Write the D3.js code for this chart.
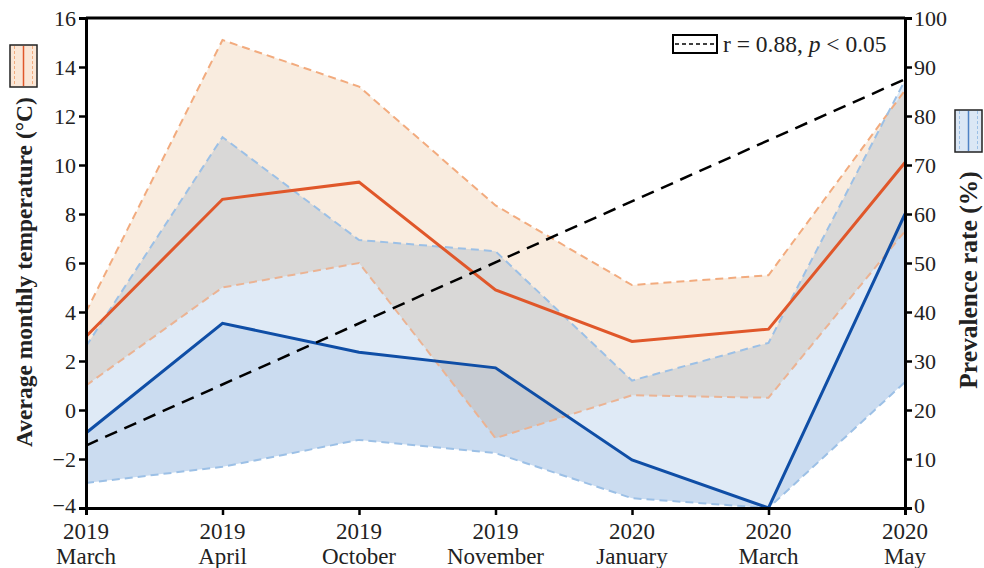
<!DOCTYPE html>
<html>
<head>
<meta charset="utf-8">
<script src="https://cdn.jsdelivr.net/npm/d3@7"></script>
<style>
  body { margin: 0; background: #fff; }
  svg { font-family: "Liberation Serif", "Times New Roman", serif; }
</style>
</head>
<body>
<div id="chart"></div>
<script>
// 数据
const years = ["2019", "2019", "2019", "2019", "2020", "2020", "2020"];
const months = ["March", "April", "October", "November", "January", "March", "May"];
// 温度 (°C)
const tempUpper = [4.0, 15.1, 13.2, 8.35, 5.1, 5.5, 13.05];
const tempMean = [3.0, 8.6, 9.3, 4.9, 2.8, 3.3, 10.1];
const tempLower = [1.0, 5.0, 6.0, -1.15, 0.6, 0.5, 7.3];
// 患病率 (%)
const prevUpper = [33, 75.7, 54.7, 52.4, 26, 33.7, 87.3];
const prevMean = [15.3, 37.7, 31.8, 28.6, 9.8, 0, 60];
const prevLower = [5.1, 8.4, 13.9, 11.2, 2, 0, 25.7];
// 回归线两端 (°C)
const trendEnds = [-1.45, 13.5];
const tempTicks = [-4, -2, 0, 2, 4, 6, 8, 10, 12, 14, 16];
const prevTicks = [0, 10, 20, 30, 40, 50, 60, 70, 80, 90, 100];

const width = 984, height = 568;
const margin = { top: 18, right: 79, bottom: 60, left: 86 };

const svg = d3.select("#chart").append("svg")
  .attr("width", width)
  .attr("height", height);

const x = d3.scalePoint()
  .domain(d3.range(months.length))
  .range([margin.left, width - margin.right]);
const yT = d3.scaleLinear().domain([-4, 16]).range([height - margin.bottom, margin.top]);
const yP = d3.scaleLinear().domain([0, 100]).range([height - margin.bottom, margin.top]);

const idx = d3.range(months.length);
const bandT = d3.area().x(i => x(i)).y0(i => yT(tempLower[i])).y1(i => yT(tempUpper[i]));
const bandP = d3.area().x(i => x(i)).y0(i => yP(prevLower[i])).y1(i => yP(prevUpper[i]));
const bandPin = d3.area().x(i => x(i)).y0(i => yP(prevLower[i])).y1(i => yP(prevMean[i]));
const lineOf = (arr, sc) => d3.line().x(i => x(i)).y(i => sc(arr[i]));

const fills = svg.append("g").style("isolation", "isolate");
fills.append("path").attr("d", bandT(idx)).attr("fill", "#f9ecdf");
fills.append("path").attr("d", bandP(idx)).attr("fill", "#dfeaf6").style("mix-blend-mode", "multiply");
fills.append("path").attr("d", bandPin(idx)).attr("fill", "#e9f0f9").style("mix-blend-mode", "multiply");

// 虚线边界
const dash = "8,5";
[[tempUpper, yT, "#f2ab7e"], [tempLower, yT, "#ebb393"], [prevUpper, yP, "#9cc0e6"], [prevLower, yP, "#9cc0e6"]]
  .forEach(([arr, sc, c]) => {
    svg.append("path").attr("d", lineOf(arr, sc)(idx))
      .attr("fill", "none").attr("stroke", c)
      .attr("stroke-width", 2).attr("stroke-dasharray", dash);
  });

// 均值线
svg.append("path").attr("d", lineOf(tempMean, yT)(idx))
  .attr("fill", "none").attr("stroke", "#e0572a").attr("stroke-width", 3);
svg.append("path").attr("d", lineOf(prevMean, yP)(idx))
  .attr("fill", "none").attr("stroke", "#0f4ea6").attr("stroke-width", 3);

// 回归线
const last = months.length - 1;
svg.append("line")
  .attr("x1", x(0)).attr("y1", yT(trendEnds[0]))
  .attr("x2", x(last)).attr("y2", yT(trendEnds[1]))
  .attr("stroke", "#000").attr("stroke-width", 2.5).attr("stroke-dasharray", "13,8");

// 坐标轴
const axL = svg.append("g").attr("transform", `translate(${margin.left},0)`)
  .call(d3.axisLeft(yT).tickValues(tempTicks).tickSize(7).tickPadding(3)
    .tickFormat(d => d < 0 ? "\u2212" + Math.abs(d) : d));
const axR = svg.append("g").attr("transform", `translate(${width - margin.right},0)`)
  .call(d3.axisRight(yP).tickValues(prevTicks).tickSize(7).tickPadding(2));
const axB = svg.append("g").attr("transform", `translate(0,${height - margin.bottom})`)
  .call(d3.axisBottom(x).tickSize(7).tickFormat(""));
svg.append("line")
  .attr("x1", margin.left).attr("x2", width - margin.right)
  .attr("y1", margin.top).attr("y2", margin.top)
  .attr("stroke", "#000").attr("stroke-width", 3);

[axL, axR, axB].forEach(a => {
  a.select(".domain").attr("stroke-width", 3);
  a.selectAll(".tick line").attr("stroke-width", 2.5);
  a.selectAll(".tick text").attr("font-size", "22px").attr("fill", "#222")
    .style("font-family", "Liberation Serif");
});
// 最下面的刻度文字稍微上移，避免和年份重叠
axL.selectAll(".tick text").filter(d => d === -4).attr("dy", "0.2em");
axR.selectAll(".tick text").filter(d => d === 0).attr("dy", "0.2em");

// x 轴两行标签
const xl = svg.append("g");
idx.forEach(i => {
  const t = xl.append("text")
    .attr("x", x(i)).attr("y", height - margin.bottom + 31)
    .attr("text-anchor", "middle").attr("font-size", "23px").attr("fill", "#222");
  t.append("tspan").attr("x", x(i)).text(years[i]);
  t.append("tspan").attr("x", x(i)).attr("dy", "1.1em").text(months[i]);
});

// 轴标题
svg.append("text")
  .attr("transform", `translate(32,272) rotate(-90)`)
  .attr("text-anchor", "middle").attr("font-size", "23.5px").attr("font-weight", "bold")
  .attr("fill", "#222")
  .text("Average monthly temperature (°C)");
svg.append("text")
  .attr("transform", `translate(977,280) rotate(-90)`)
  .attr("text-anchor", "middle").attr("font-size", "25.5px").attr("font-weight", "bold")
  .attr("fill", "#222")
  .text("Prevalence rate (%)");

// 图例小图标
function icon(x0, y0, fill, solid, dashed) {
  const g = svg.append("g").attr("transform", `translate(${x0},${y0})`);
  g.append("rect").attr("width", 27).attr("height", 42)
    .attr("fill", fill).attr("stroke", "#222").attr("stroke-width", 1.5);
  [4.5, 22.5].forEach(dx => g.append("line")
    .attr("x1", dx).attr("x2", dx).attr("y1", 1).attr("y2", 41)
    .attr("stroke", dashed).attr("stroke-width", 1).attr("stroke-dasharray", "3,2"));
  g.append("line").attr("x1", 13.5).attr("x2", 13.5).attr("y1", 1).attr("y2", 41)
    .attr("stroke", solid).attr("stroke-width", 1.5);
}
icon(10, 45, "#fae6d6", "#e0572a", "#f2ab7e");
icon(955, 110, "#dbe7f5", "#4f82c4", "#9cc0e6");

// 回归图例
const lg = svg.append("g").attr("transform", "translate(673,35)");
lg.append("rect").attr("width", 44).attr("height", 18)
  .attr("fill", "#fff").attr("stroke", "#000").attr("stroke-width", 2);
lg.append("line").attr("x1", 2).attr("x2", 42).attr("y1", 9).attr("y2", 9)
  .attr("stroke", "#000").attr("stroke-width", 1.5).attr("stroke-dasharray", "4,3");
const lt = lg.append("text").attr("x", 50).attr("y", 17)
  .attr("font-size", "23.5px").attr("fill", "#222");
lt.append("tspan").text("r = 0.88, ");
lt.append("tspan").attr("font-style", "italic").text("p");
lt.append("tspan").text(" < 0.05");
</script>
</body>
</html>
